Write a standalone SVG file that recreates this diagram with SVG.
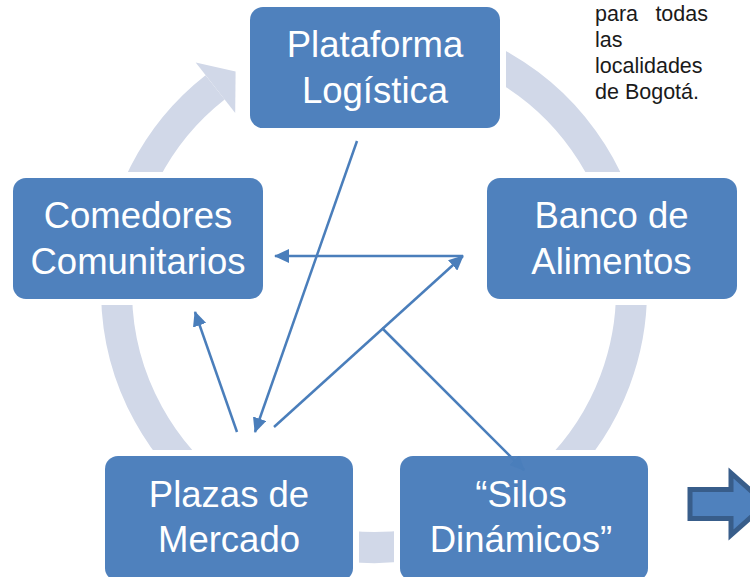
<svg xmlns="http://www.w3.org/2000/svg" width="750" height="577" viewBox="0 0 750 577">
<style>
.node{fill:#4F81BD;stroke:#FFFFFF;stroke-width:12;paint-order:stroke}
.lbl{font-family:"Liberation Sans",Arial,sans-serif;font-size:36.5px;fill:#FFFFFF;text-anchor:middle}
.note{font-family:"Liberation Sans",Arial,sans-serif;font-size:21.5px;fill:#1A1A1A}
.conn{stroke:#4A7EBB;stroke-width:2.5;fill:none;marker-end:url(#ah)}
</style>
<defs>
<marker id="ah" markerUnits="userSpaceOnUse" markerWidth="15" markerHeight="14" refX="14" refY="7" orient="auto">
<path d="M0,0 L15,7 L0,14 Z" fill="#4A7EBB"/>
</marker>
</defs>
<rect width="750" height="577" fill="#FFFFFF"/>
<g id="ring">
<path d="M396.4,33.5 A257.5,257.5 0 1 1 215.1,87.4" fill="none" stroke="#D1D8E8" stroke-width="31"/>
<polygon points="195.7,62.6 235.6,71.4 235.2,112.9" fill="#D1D8E8"/>
</g>
<g id="plataforma">
<rect class="node" x="250" y="7" width="250" height="121" rx="13"/>
<text class="lbl" x="375" y="57">Plataforma</text>
<text class="lbl" x="375" y="103">Logística</text>
</g>
<g id="banco">
<rect class="node" x="487" y="178" width="250" height="121" rx="13"/>
<text class="lbl" x="611.5" y="228">Banco de</text>
<text class="lbl" x="611.5" y="274">Alimentos</text>
</g>
<g id="silos">
<rect class="node" x="400" y="456" width="248" height="125" rx="13"/>
<text class="lbl" x="521" y="507">“Silos</text>
<text class="lbl" x="521" y="552">Dinámicos”</text>
</g>
<g id="plazas">
<rect class="node" x="105" y="456" width="248" height="125" rx="13"/>
<text class="lbl" x="229" y="507">Plazas de</text>
<text class="lbl" x="229" y="552">Mercado</text>
</g>
<g id="comedores">
<rect class="node" x="13" y="178" width="250" height="121" rx="13"/>
<text class="lbl" x="138" y="228">Comedores</text>
<text class="lbl" x="138" y="274">Comunitarios</text>
</g>
<g id="connectors">
<line class="conn" x1="357" y1="141" x2="255" y2="432"/>
<line class="conn" x1="274" y1="427" x2="463" y2="256"/>
<line class="conn" x1="463" y1="256" x2="275" y2="256"/>
<line class="conn" x1="382" y1="328" x2="524" y2="470"/>
<line class="conn" x1="237" y1="432" x2="195" y2="312"/>
</g>
<g id="note">
<text class="note" x="595" y="21">para</text>
<text class="note" x="708" y="21" text-anchor="end">todas</text>
<text class="note" x="595" y="47">las</text>
<text class="note" x="595" y="73">localidades</text>
<text class="note" x="595" y="99">de Bogotá.</text>
</g>
<g id="block-arrow">
<polygon points="690,489.5 731,489.5 731,473 766,504 731,535 731,518.5 690,518.5" fill="#4F81BD" stroke="#385D8A" stroke-width="5"/>
</g>
</svg>
